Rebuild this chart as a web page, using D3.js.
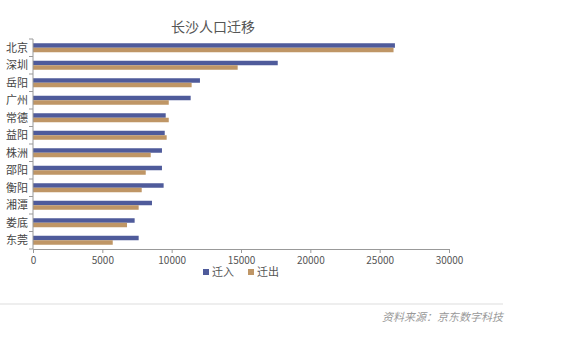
<!DOCTYPE html>
<html><head><meta charset="utf-8">
<script src="https://cdn.jsdelivr.net/npm/d3@7/dist/d3.min.js"></script>
<style>body{margin:0;background:#fff;}svg{display:block;font-family:"Noto Sans CJK SC",sans-serif;}</style>
</head><body><svg id="c" width="568" height="346"></svg>
<script>
const categories = ["北京","深圳","岳阳","广州","常德","益阳","株洲","邵阳","衡阳","湘潭","娄底","东莞"];
const inflow  = [26100,17650,12040,11370,9570,9500,9300,9300,9420,8580,7330,7620];
const outflow = [26000,14760,11440,9790,9790,9640,8490,8130,7840,7620,6780,5750];
const xTicks = [0,5000,10000,15000,20000,25000,30000];
const seriesNames = ["迁入","迁出"];
const colors = ["#4f5b9b","#bf9666"];

const svg = d3.select("#c");
const x = d3.scaleLinear().domain([0,30000]).range([33,449]);
const y = d3.scaleBand().domain(categories).range([39,249]);
const inner = d3.scaleBand().domain([0,1]).range([y.bandwidth()/2-4.5, y.bandwidth()/2+4.5]);

svg.append("text").attr("x",213).attr("y",32).attr("text-anchor","middle")
  .attr("font-size",14).attr("fill","#555").text("长沙人口迁移");

const g = svg.append("g");
categories.forEach((c,i)=>{
  [inflow[i],outflow[i]].forEach((v,s)=>{
    g.append("rect").attr("x",x(0)).attr("y",y(c)+inner(s))
      .attr("width",x(v)-x(0)).attr("height",inner.bandwidth()).attr("fill",colors[s]);
  });
});

// y axis
const ya = svg.append("g").attr("transform",`translate(${x(0)},0)`);
ya.append("line").attr("y1",39).attr("y2",249).attr("stroke","#999");
const bounds = categories.map(c=>y(c)).concat([249]);
bounds.forEach(b=>ya.append("line").attr("x1",-4).attr("x2",0).attr("y1",b).attr("y2",b).attr("stroke","#999"));
categories.forEach(c=>ya.append("text").attr("x",-5).attr("y",y(c)+y.bandwidth()/2).attr("dy","0.35em")
  .attr("text-anchor","end").attr("font-size",11).attr("fill","#444").text(c));

// x axis
const xa = svg.append("g").attr("transform","translate(0,249)")
  .call(d3.axisBottom(x).tickValues(xTicks).tickSize(4).tickSizeOuter(0).tickFormat(d3.format("d")));
xa.select(".domain").attr("stroke","#999");
xa.selectAll(".tick line").attr("stroke","#999");
xa.selectAll(".tick text").attr("font-size",10).attr("fill","#555").attr("font-family","'Noto Sans CJK SC',sans-serif").attr("dy","0.8em");

// legend
const lg = svg.append("g");
const lx = [203,248];
seriesNames.forEach((n,i)=>{
  lg.append("rect").attr("x",lx[i]).attr("y",269).attr("width",6).attr("height",6).attr("fill",colors[i]);
  lg.append("text").attr("x",lx[i]+9).attr("y",272.5).attr("dy","0.35em").attr("font-size",11).attr("fill","#555").text(n);
});

// footer
svg.append("rect").attr("x",0).attr("y",303).attr("width",503).attr("height",2).attr("fill","#eee");
svg.append("text").attr("x",503).attr("y",321).attr("text-anchor","end").attr("font-size",11)
  .attr("font-style","italic").attr("fill","#999").text("资料来源：京东数字科技");
</script></body></html>
